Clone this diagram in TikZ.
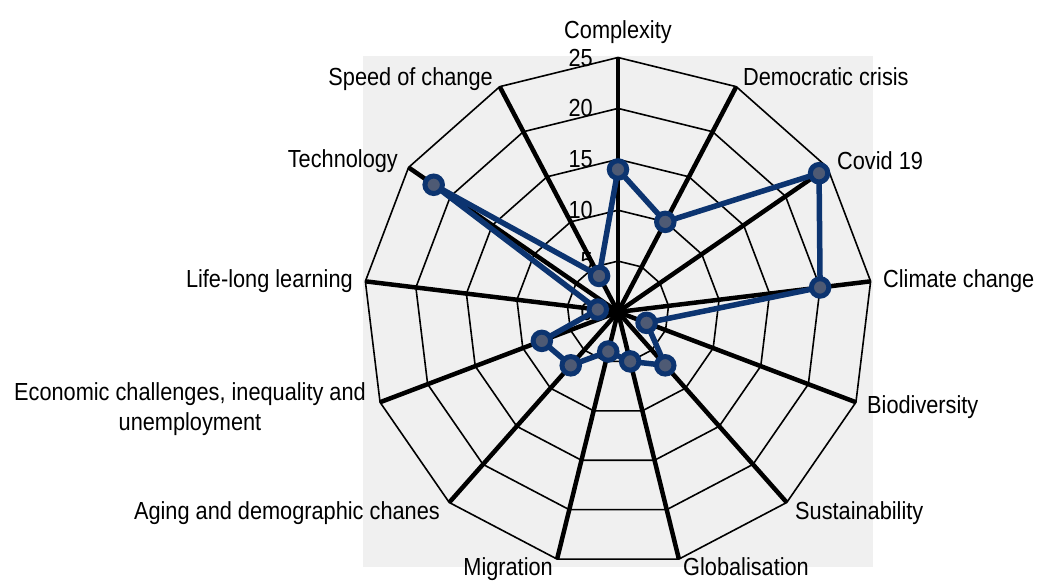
\documentclass[tikz,border=0pt]{standalone}
\usepackage{fontspec}
\setmainfont{Liberation Sans}[FakeStretch=0.88]
\usepackage{xcolor}
\usepackage{tikz}
\definecolor{radar-blue}{RGB}{12,52,112}
\definecolor{radar-fill}{RGB}{78,90,116}
\definecolor{radar-back}{RGB}{240,240,240}
\tikzset{radar-ring/.style={line width=1.6pt}}
\tikzset{radar-spoke/.style={line width=4.5pt}}
\tikzset{radar-line/.style={draw=radar-blue,line width=5.5pt,line join=round}}
\tikzset{radar-dot/.style={circle,draw=radar-blue,fill=radar-fill,line width=5pt,minimum size=17.5pt,inner sep=0pt}}
\tikzset{radar-label/.style={inner sep=0pt,font=\fontsize{24.7}{30}\selectfont}}

\begin{document}
\begin{tikzpicture}[x=1pt,y=1pt]
            \useasboundingbox (-618,-269) rectangle (419,312);
            \fill [radar-back] (-255,-255) rectangle (255,256);
            \coordinate (centre) at (0,0);

            % rings at 5, 10, ..., 25
            \foreach \r in {5,10,...,25}
                \draw [radar-ring] (90:\r*10.18)
                    \foreach \i in {1,...,12} { -- ({90-\i*360/13}:\r*10.18) } -- cycle;
            \foreach \i in {0,...,12}
                \draw [radar-spoke] (centre) -- ({90-\i*360/13}:254.5);

            \foreach \v in {0,5,...,25}
                \node [radar-label, anchor=east] (tick\v) at (-25,\v*10.18) {\v};

            \node [radar-label, anchor=base] (complexity) at (0,273) {Complexity};
            \node [radar-label, anchor=base west] (democracy) at (125,226) {Democratic crisis};
            \node [radar-label, anchor=base west] (covid) at (219,142) {Covid 19};
            \node [radar-label, anchor=base west] (climate) at (265,24) {Climate change};
            \node [radar-label, anchor=base west] (biodiversity) at (249,-101) {Biodiversity};
            \node [radar-label, anchor=base west] (sustainability) at (177,-207) {Sustainability};
            \node [radar-label, anchor=base west] (globalisation) at (65,-263) {Globalisation};
            \node [radar-label, anchor=base east] (migration) at (-65,-263) {Migration};
            \node [radar-label, anchor=base east] (aging) at (-178,-207) {Aging and demographic chanes};
            \node [radar-label, align=center] (economy) at (-428,-97)
                {Economic challenges, inequality and\\unemployment};
            \node [radar-label, anchor=base east] (lifelong) at (-265,24) {Life-long learning};
            \node [radar-label, anchor=base east] (technology) at (-220,144) {Technology};
            \node [radar-label, anchor=base east] (speed) at (-125,226) {Speed of change};

            % survey scores, clockwise from Complexity
            \foreach \v [count=\i from 0] in {14,10,24,20,3,7,5,4,7,8,2,22,4}
                \coordinate (p\i) at ({90-\i*360/13}:\v*10.18);
            \draw [radar-line] (p0) -- (p1) -- (p2) -- (p3) -- (p4) -- (p5) -- (p6)
                -- (p7) -- (p8) -- (p9) -- (p10) -- (p11) -- (p12) -- cycle;
            \foreach \i in {0,...,12}
                \node [radar-dot] (dot\i) at (p\i) {};
\end{tikzpicture}
\end{document}
